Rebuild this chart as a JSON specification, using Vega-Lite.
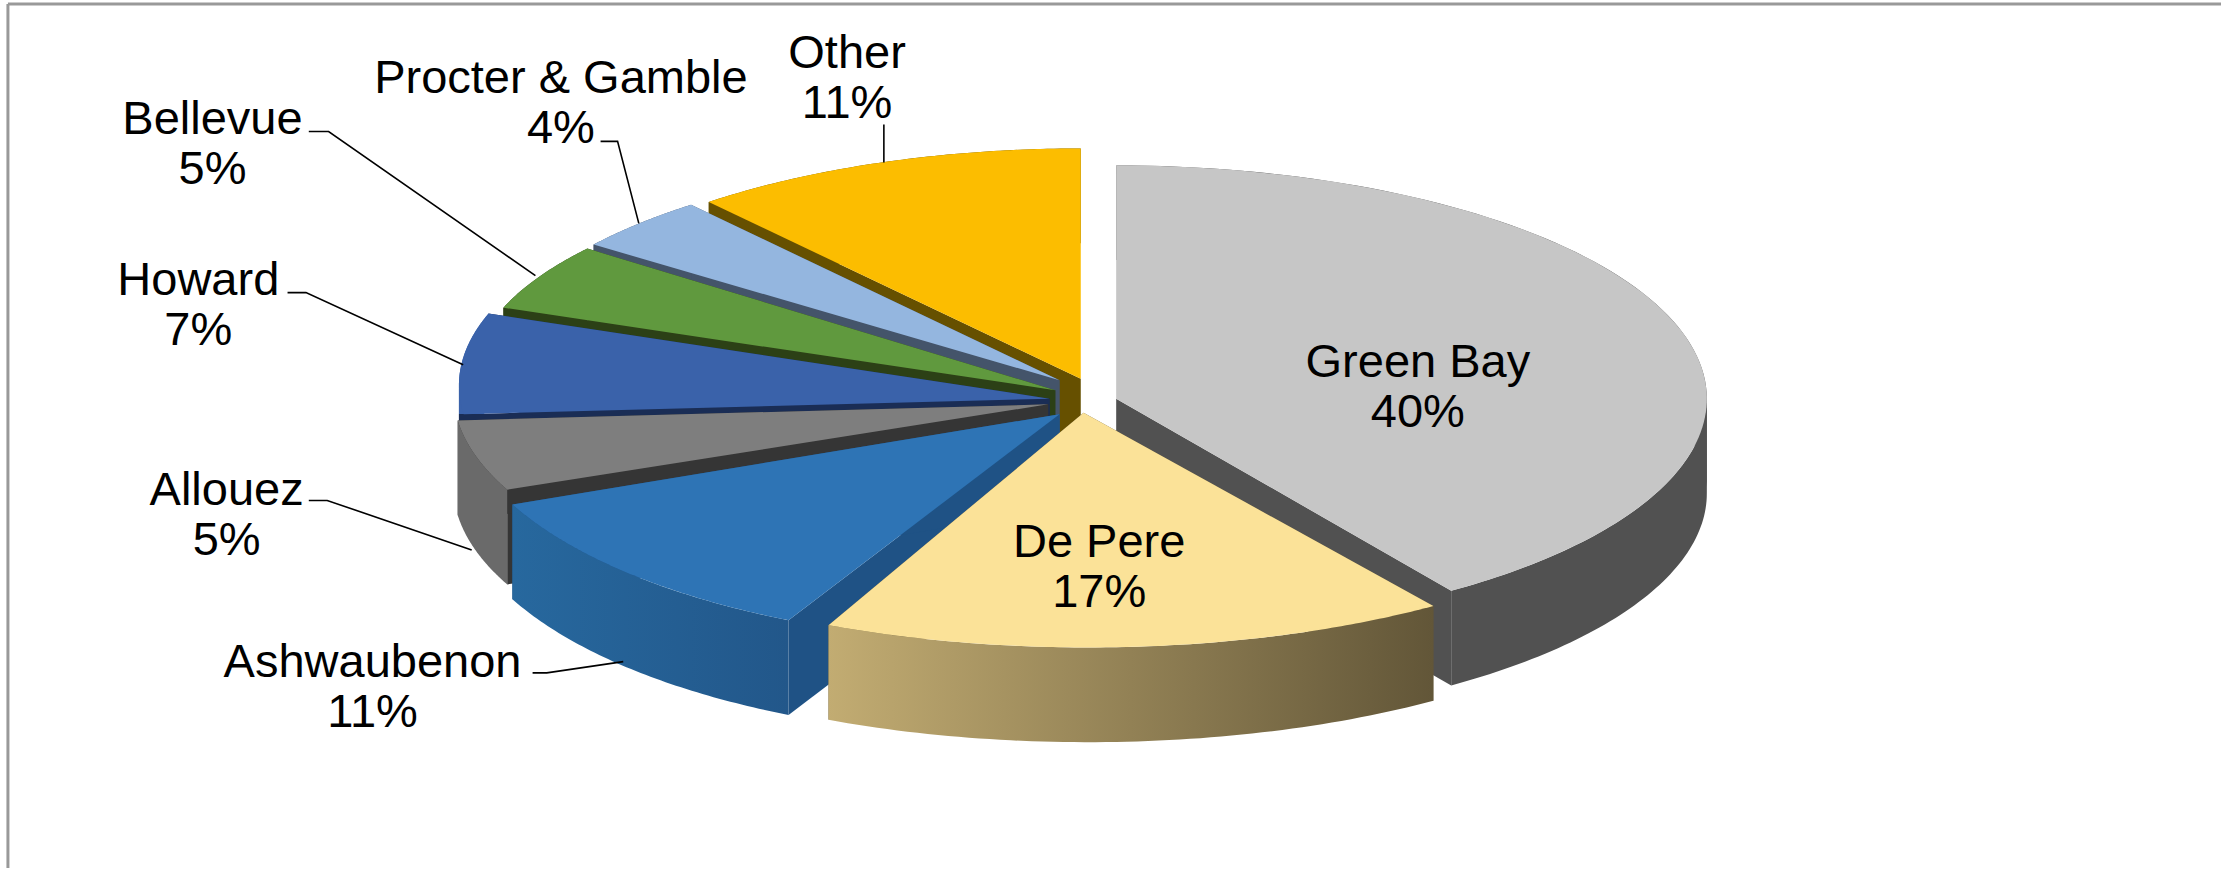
{
"$schema":"https://vega.github.io/schema/vega-lite/v6.json",
"description":"Exploded 3D-style pie of shares. Slice outlines are derived from the share values by cumulative angle; the explosion offsets, leader lines and label anchors are hand-placed layout.",
"autosize":{"type":"fit","contains":"padding"},
"width":2223,"height":870,"padding":0,"background":"white",
"config":{"view":{"stroke":null}},
"data":{"values":[
{"name":"Other","share":11,"pie_order":8},
{"name":"Procter & Gamble","share":4,"pie_order":7},
{"name":"Bellevue","share":5,"pie_order":6},
{"name":"Howard","share":7,"pie_order":5},
{"name":"Allouez","share":5,"pie_order":4},
{"name":"Ashwaubenon","share":11,"pie_order":3},
{"name":"Green Bay","share":40.4,"pie_order":1},
{"name":"De Pere","share":16.6,"pie_order":2}
]},
"encoding":{
"x":{"type":"quantitative","scale":{"domain":[0,1568],"nice":false,"zero":false},"axis":null},
"y":{"type":"quantitative","scale":{"domain":[0,614],"reverse":true,"nice":false,"zero":false},"axis":null}
},
"layer":[
{"transform":[
{"window":[{"op":"sum","field":"share","as":"cum"}],"sort":[{"field":"pie_order","order":"ascending"}]},
{"calculate":"(datum.cum-datum.share)/100*2*PI","as":"a0"},
{"calculate":"datum.cum/100*2*PI","as":"a1"},
{"calculate":"(datum.a0<PI/2&&datum.a1>PI/2)?(PI/2-datum.a0)/(datum.a1-datum.a0):((datum.a0<3*PI/2&&datum.a1>3*PI/2)?(3*PI/2-datum.a0)/(datum.a1-datum.a0):1)","as":"tm"},
{"calculate":"{'Green Bay':[788,282,417,165,788,282],'De Pere':[765,292,430,166,768,292],'Ashwaubenon':[748,293,407,171,730,284],'Allouez':[740,286,400,163,720,277],'Howard':[741,282,426,164,750,272.5],'Bellevue':[745,276,417,150,752,264],'Procter & Gamble':[748,269,401,154,743.5,263.5],'Other':[763,268,412,165,763,270]}[datum.name]","as":"g"},
{"calculate":"['edge0','edge1','arc','arc2','top']","as":"part"},
{"flatten":["part"]},
{"calculate":"[0,1,2,3,4,5,6,7,8,9,10,11,12,13,14,15,16,17,18,19,20,21,22,23,24,25,26,27,28,29,30,31,32,33,34,35,36,37,38,39,40,41,42,43,44,45,46,47,48,49,50,51,52,53,54,55,56,57,58,59,60,61,62,63,64,65,66,67,68,69,70,71,72,73,74,75,76,77,78,79,80,81,82,83,84,85,86,87,88,89,90,91,92,93,94,95,96,97,98,99,100,101,102,103,104,105,106,107,108,109,110,111,112,113,114,115,116,117,118,119,120,121]","as":"k"},
{"flatten":["k"]},
{"calculate":"datum.k<=60?datum.k/60:(121-datum.k)/60","as":"b"},
{"calculate":"datum.part=='top'?(datum.k==0?-1:(datum.k-1)/120):datum.part=='arc'?datum.b*datum.tm:datum.part=='arc2'?datum.tm+datum.b*(1-datum.tm):datum.part=='edge0'?((datum.k==1||datum.k==2)?0:-1):((datum.k==1||datum.k==2)?1:-1)","as":"t"},
{"calculate":"(datum.part=='arc'||datum.part=='arc2')?(datum.k>60?1:0):(datum.part=='top'?0:(datum.k>=2?1:0))","as":"low"},
{"calculate":"datum.t<0?datum.g[0]:datum.g[4]+datum.g[2]*sin(datum.a0+(datum.a1-datum.a0)*datum.t)","as":"px"},
{"calculate":"(datum.t<0?datum.g[1]:datum.g[5]-datum.g[3]*cos(datum.a0+(datum.a1-datum.a0)*datum.t))+67*datum.low","as":"py"},
{"calculate":"datum.name+'|'+datum.part","as":"poly"},
{"calculate":"{'Green Bay':{top:'#c6c6c6',arc:'#515151',edge:'#515151'},'De Pere':{top:'#fbe298',arc:{gradient:'linear',x1:0,y1:0,x2:1,y2:0,stops:[{offset:0,color:'#c2ac72'},{offset:1,color:'#625638'}]},edge:'#625638'},'Ashwaubenon':{top:'#2e74b5',arc:{gradient:'linear',x1:0,y1:0,x2:1,y2:0,stops:[{offset:0,color:'#27689e'},{offset:1,color:'#22578a'}]},edge:'#1f5285'},'Allouez':{top:'#7e7e7e',arc:'#6a6a6a',edge:'#353535'},'Howard':{top:'#3a62aa',arc:{gradient:'linear',x1:0,y1:0,x2:0,y2:1,stops:[{offset:0,color:'#3a62aa'},{offset:0.234,color:'#3a62aa'},{offset:0.234,color:'#1a2d55'},{offset:1,color:'#1a2d55'}]},arc2:{gradient:'linear',x1:0,y1:0,x2:0,y2:1,stops:[{offset:0,color:'#3a62aa'},{offset:0.604,color:'#3a62aa'},{offset:0.604,color:'#1a2d55'},{offset:1,color:'#1a2d55'}]},edge:'#1a2d55'},'Bellevue':{top:'#60993e',arc:'#2c4016',edge:'#2c4016'},'Procter & Gamble':{top:'#94b6df',arc:'#44546a',edge:'#44546a'},'Other':{top:'#fcbd00',arc:'#665000',edge:'#665000'}}[datum.name]","as":"pal"},
{"calculate":"datum.part=='top'?datum.pal.top:datum.part=='arc2'?(datum.pal.arc2||datum.pal.arc):datum.part=='arc'?datum.pal.arc:datum.pal.edge","as":"paint"}
],
"mark":{"type":"line","filled":true,"strokeWidth":0,"interpolate":"linear"},
"encoding":{
"x":{"field":"px","type":"quantitative"},
"y":{"field":"py","type":"quantitative"},
"detail":{"field":"poly"},
"order":{"field":"k"},
"color":{"field":"paint","type":"nominal","scale":null,"legend":null}
}},
{"transform":[
{"filter":"datum.name!='Green Bay'&&datum.name!='De Pere'"},
{"calculate":"[0,1,2]","as":"k"},
{"flatten":["k"]},
{"calculate":"{'Bellevue':[[218,93],[232,93],[378,195]],'Procter & Gamble':[[424,100],[436,100],[451,158]],'Howard':[[203,207],[216,207],[327,258]],'Allouez':[[218,354],[231,354],[333,389]],'Ashwaubenon':[[376,476],[386,476],[440,468]],'Other':[[624,88],[624,100],[624,115]]}[datum.name][datum.k]","as":"p"},
{"calculate":"datum.p[0]","as":"px"},
{"calculate":"datum.p[1]","as":"py"}
],
"mark":{"type":"line","color":"#000000","strokeWidth":1.6},
"encoding":{
"x":{"field":"px","type":"quantitative"},
"y":{"field":"py","type":"quantitative"},
"detail":{"field":"name"},
"order":{"field":"k"}
}},
{"transform":[
{"calculate":"{'Green Bay':[1001,257],'De Pere':[776,384],'Ashwaubenon':[263,469],'Allouez':[160,347],'Howard':[140,199],'Bellevue':[150,85],'Procter & Gamble':[396,56],'Other':[598,38]}[datum.name]","as":"p"},
{"calculate":"datum.p[0]","as":"px"},
{"calculate":"datum.p[1]","as":"py"},
{"calculate":"datum.name+'\\n'+round(datum.share)+'%'","as":"label"}
],
"mark":{"type":"text","font":"Liberation Sans","fontSize":47,"lineBreak":"\n","lineHeight":50,"align":"center","baseline":"middle","color":"#000000"},
"encoding":{
"x":{"field":"px","type":"quantitative"},
"y":{"field":"py","type":"quantitative"},
"text":{"field":"label"}
}},
{"data":{"values":[{}]},"mark":{"type":"rule","color":"#999999","strokeWidth":3},
"encoding":{"x":{"datum":5.6,"type":"quantitative"},"y":{"datum":2.8,"type":"quantitative"},"y2":{"datum":614}}},
{"data":{"values":[{}]},"mark":{"type":"rule","color":"#999999","strokeWidth":3},
"encoding":{"y":{"datum":2.8,"type":"quantitative"},"x":{"datum":5.6,"type":"quantitative"},"x2":{"datum":1568}}}
]
}
